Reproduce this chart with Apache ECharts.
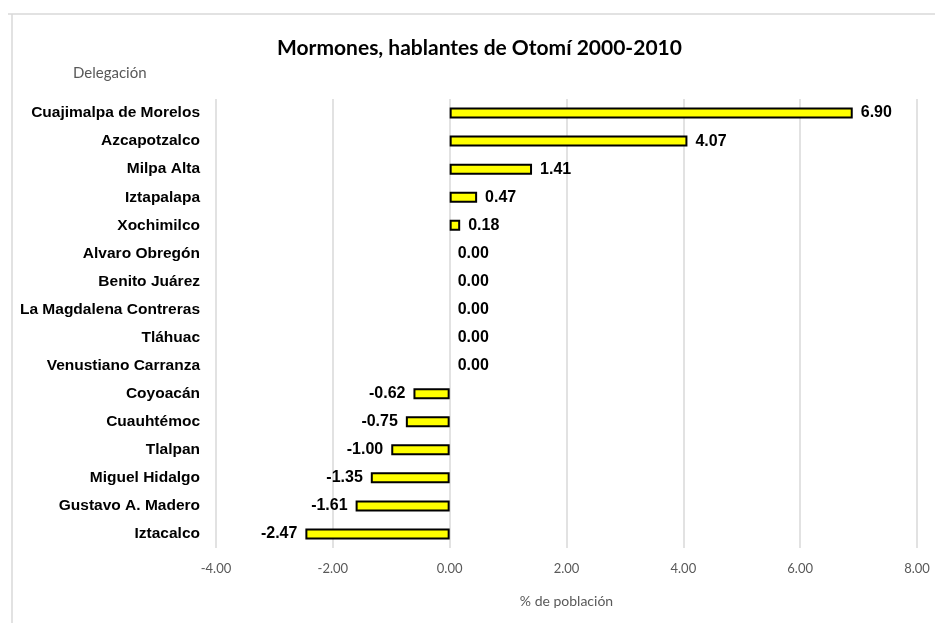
<!DOCTYPE html>
<html><head><meta charset="utf-8">
<script src="https://cdn.jsdelivr.net/npm/echarts@6/dist/echarts.min.js"></script>
<style>html,body{margin:0;padding:0;background:#fff}#c{width:935px;height:623px}</style>
</head><body><div id="c"></div>
<script>
const categories = ["Cuajimalpa de Morelos","Azcapotzalco","Milpa Alta","Iztapalapa","Xochimilco","Alvaro Obregón","Benito Juárez","La Magdalena Contreras","Tláhuac","Venustiano Carranza","Coyoacán","Cuauhtémoc","Tlalpan","Miguel Hidalgo","Gustavo A. Madero","Iztacalco"];
const values = [6.90,4.07,1.41,0.47,0.18,0.00,0.00,0.00,0.00,0.00,-0.62,-0.75,-1.00,-1.35,-1.61,-2.47];
const titleText = "Mormones, hablantes de Otomí 2000-2010";
const yAxisName = "Delegación";
const xAxisName = "% de población";

const chart = echarts.init(document.getElementById('c'));
const data = values.map(v => ({
  value: v,
  label: { position: v < 0 ? 'left' : 'right' },
  itemStyle: v === 0 ? { borderWidth: 0, color: 'rgba(0,0,0,0)' } : undefined
}));
chart.setOption({
  animation: false,
  backgroundColor: '#fff',
  title: {
    text: titleText, left: 272, top: 33,
    textStyle: { fontFamily: 'Lato', fontWeight: 'bold', fontSize: 21, color: '#000' }
  },
  graphic: [
    { type: 'line', shape: { x1: 8, y1: 14, x2: 935, y2: 14 }, style: { stroke: '#d9d9d9', lineWidth: 1.5 } },
    { type: 'line', shape: { x1: 12, y1: 14, x2: 12, y2: 623 }, style: { stroke: '#d9d9d9', lineWidth: 1.5 } },
    { type: 'text', left: 73, top: 66, style: { text: yAxisName, fill: '#595959', fontFamily: 'Lato', fontSize: 15 } }
  ],
  grid: { left: 216, right: 18, top: 99, bottom: 75 },
  xAxis: {
    type: 'value', min: -4, max: 8, interval: 2,
    name: xAxisName, nameLocation: 'middle', nameGap: 46,
    nameTextStyle: { color: '#595959', fontFamily: 'Lato', fontSize: 14 },
    axisLine: { show: false }, axisTick: { show: false },
    axisLabel: { formatter: v => v.toFixed(2), color: '#595959', fontFamily: 'Lato', fontSize: 13, margin: 14 },
    splitLine: { lineStyle: { color: '#d9d9d9', width: 1.5 } }
  },
  yAxis: {
    type: 'category', data: categories, inverse: true,
    axisLine: { show: false }, axisTick: { show: false },
    axisLabel: { color: '#000', fontFamily: 'Liberation Sans', fontWeight: 'bold', fontSize: 15.5, margin: 16 }
  },
  series: [{
    type: 'bar', data: data, barWidth: 11,
    itemStyle: { color: '#ffff00', borderColor: '#000', borderWidth: 2 },
    label: {
      show: true, distance: 8, formatter: p => p.value.toFixed(2),
      color: '#000', fontFamily: 'Liberation Sans', fontWeight: 'bold', fontSize: 16
    }
  }]
});
</script></body></html>
